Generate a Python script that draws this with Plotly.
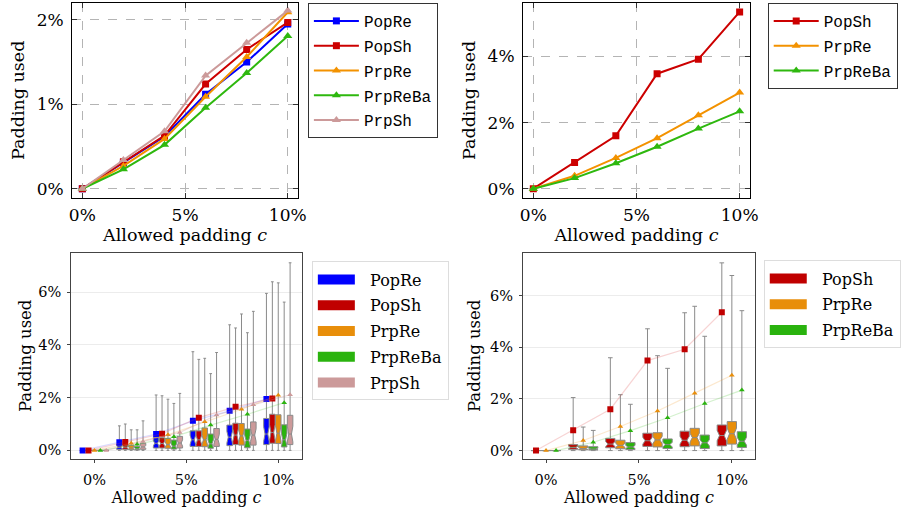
import plotly.graph_objects as go

# ---------------- data (percent) ----------------
X = [0, 2, 4, 6, 8, 10]

# top-left: mean padding used
tl_names = ["PopRe", "PopSh", "PrpRe", "PrpReBa", "PrpSh"]
tl_popre = [0, 0.31, 0.62, 1.12, 1.50, 1.95]
tl_popsh = [0, 0.32, 0.63, 1.24, 1.65, 1.97]
tl_prpre = [0, 0.27, 0.59, 1.09, 1.56, 2.09]
tl_prpreba = [0, 0.23, 0.52, 0.96, 1.37, 1.81]
tl_prpsh = [0, 0.34, 0.68, 1.34, 1.73, 2.11]

# top-right: mean padding used
tr_names = ["PopSh", "PrpRe", "PrpReBa"]
tr_popsh = [0, 0.79, 1.60, 3.48, 3.92, 5.35]
tr_prpre = [0, 0.39, 0.93, 1.53, 2.22, 2.91]
tr_prpreba = [0, 0.32, 0.77, 1.27, 1.82, 2.34]

# bottom-left box statistics
bl_q1 = {
    "PopRe":   [0, 0.04, 0.09, 0.15, 0.18, 0.22],
    "PopSh":   [0, 0.04, 0.09, 0.15, 0.22, 0.27],
    "PrpRe":   [0, 0.03, 0.08, 0.14, 0.20, 0.26],
    "PrpReBa": [0, 0.02, 0.05, 0.08, 0.10, 0.13],
    "PrpSh":   [0, 0.04, 0.09, 0.15, 0.20, 0.22],
}
bl_median = {
    "PopRe":   [0, 0.12, 0.27, 0.40, 0.50, 0.62],
    "PopSh":   [0, 0.12, 0.26, 0.40, 0.58, 0.68],
    "PrpRe":   [0, 0.09, 0.22, 0.40, 0.55, 0.65],
    "PrpReBa": [0, 0.06, 0.16, 0.25, 0.38, 0.40],
    "PrpSh":   [0, 0.13, 0.28, 0.42, 0.58, 0.62],
}
bl_q3 = {
    "PopRe":   [0, 0.23, 0.49, 0.74, 0.96, 1.21],
    "PopSh":   [0, 0.24, 0.48, 0.74, 1.03, 1.37],
    "PrpRe":   [0, 0.19, 0.45, 0.85, 1.02, 1.35],
    "PrpReBa": [0, 0.15, 0.39, 0.62, 0.81, 0.97],
    "PrpSh":   [0, 0.27, 0.53, 0.83, 1.08, 1.33],
}
bl_max = {
    "PopRe":   [0, 0.93, 2.10, 3.74, 4.76, 5.95],
    "PopSh":   [0, 1.00, 2.07, 3.45, 4.64, 6.39],
    "PrpRe":   [0, 0.78, 1.94, 3.49, 5.17, 6.35],
    "PrpReBa": [0, 0.78, 1.78, 2.91, 4.46, 5.62],
    "PrpSh":   [0, 1.12, 2.16, 3.71, 5.27, 7.11],
}
bl_min = {
    "PopRe":   [0, 0, 0, 0, 0, 0],
    "PopSh":   [0, 0, 0, 0, 0, 0],
    "PrpRe":   [0, 0, 0, 0, 0, 0],
    "PrpReBa": [0, 0, 0, 0, 0, 0],
    "PrpSh":   [0, 0, 0, 0, 0, 0],
}
bl_notch = {
    "PopRe":   [0, 0.05, 0.10, 0.17, 0.22, 0.28],
    "PopSh":   [0, 0.05, 0.10, 0.17, 0.24, 0.30],
    "PrpRe":   [0, 0.04, 0.10, 0.19, 0.23, 0.30],
    "PrpReBa": [0, 0.04, 0.09, 0.15, 0.20, 0.25],
    "PrpSh":   [0, 0.06, 0.12, 0.19, 0.24, 0.30],
}

# bottom-right box statistics
br_q1 = {
    "PopSh":   [0, 0.05, 0.11, 0.16, 0.15, 0.18],
    "PrpRe":   [0, 0.03, 0.07, 0.14, 0.18, 0.25],
    "PrpReBa": [0, 0.02, 0.04, 0.08, 0.08, 0.12],
}
br_median = {
    "PopSh":   [0, 0.12, 0.25, 0.38, 0.40, 0.58],
    "PrpRe":   [0, 0.08, 0.20, 0.41, 0.50, 0.65],
    "PrpReBa": [0, 0.06, 0.14, 0.23, 0.30, 0.36],
}
br_q3 = {
    "PopSh":   [0, 0.23, 0.47, 0.67, 0.75, 0.99],
    "PrpRe":   [0, 0.18, 0.40, 0.69, 0.86, 1.12],
    "PrpReBa": [0, 0.15, 0.31, 0.45, 0.60, 0.73],
}
br_max = {
    "PopSh":   [0, 2.05, 3.59, 4.71, 5.33, 7.26],
    "PrpRe":   [0, 0.91, 2.16, 3.67, 5.58, 6.77],
    "PrpReBa": [0, 0.78, 1.79, 3.18, 4.42, 5.41],
}
br_min = {
    "PopSh":   [0, 0, 0, 0, 0, 0],
    "PrpRe":   [0, 0, 0, 0, 0, 0],
    "PrpReBa": [0, 0, 0, 0, 0, 0],
}
br_notch = {
    "PopSh":   [0, 0.05, 0.10, 0.13, 0.15, 0.20],
    "PrpRe":   [0, 0.04, 0.08, 0.14, 0.17, 0.22],
    "PrpReBa": [0, 0.03, 0.06, 0.09, 0.12, 0.15],
}

tl_means = {"PopRe": tl_popre, "PopSh": tl_popsh, "PrpRe": tl_prpre,
            "PrpReBa": tl_prpreba, "PrpSh": tl_prpsh}
tr_means = {"PopSh": tr_popsh, "PrpRe": tr_prpre, "PrpReBa": tr_prpreba}

# ---------------- styles ----------------
LINE_COL = {"PopRe": "#0000ff", "PopSh": "#cc0000", "PrpRe": "#f39200",
            "PrpReBa": "#2eb80e", "PrpSh": "#cc9a9a"}
FILL_COL = {"PopRe": "#0000ff", "PopSh": "#c00000", "PrpRe": "#e88e0a",
            "PrpReBa": "#2ab30e", "PrpSh": "#cc9a9a"}
FAINT_COL = {"PopRe": "rgba(90,90,255,0.22)", "PopSh": "rgba(220,60,60,0.22)",
             "PrpRe": "rgba(240,150,30,0.22)", "PrpReBa": "rgba(60,190,30,0.22)",
             "PrpSh": "rgba(200,140,140,0.3)"}
SYMBOL = {"PopRe": "square", "PopSh": "square", "PrpRe": "triangle-up",
          "PrpReBa": "triangle-up", "PrpSh": "triangle-up"}

SERIF = "DejaVu Serif"
MONO = "Liberation Mono"
W, H = 904, 510
NBSP = "\u00a0"


def px_dom_x(a, b):
    return [a / W, b / W]


def px_dom_y(top, bottom):
    return [1 - bottom / H, 1 - top / H]


fig = go.Figure()

# top-left lines
for name in tl_names:
    fig.add_trace(go.Scatter(
        x=X, y=tl_means[name], name=name, mode="lines+markers",
        line=dict(color=LINE_COL[name], width=2),
        marker=dict(symbol=SYMBOL[name], size=7 if SYMBOL[name] == "square" else 8,
                    color=LINE_COL[name]),
        xaxis="x", yaxis="y", legend="legend", legendgroup="tl" + name))

# top-right lines
for name in tr_names:
    fig.add_trace(go.Scatter(
        x=X, y=tr_means[name], name=name, mode="lines+markers",
        line=dict(color=LINE_COL[name], width=2),
        marker=dict(symbol=SYMBOL[name], size=7 if SYMBOL[name] == "square" else 8,
                    color=LINE_COL[name]),
        xaxis="x2", yaxis="y2", legend="legend2", legendgroup="tr" + name))


def add_boxes(names, q1, med, q3, lo, hi, notch, means, slot, bw, xa, ya, leg):
    n = len(names)
    for i, name in enumerate(names):
        off = (i - (n - 1) / 2) * slot
        xs = [v + off for v in X]
        fig.add_trace(go.Box(
            x=xs, q1=q1[name], median=med[name], q3=q3[name],
            lowerfence=lo[name], upperfence=hi[name],
            notched=True, notchspan=notch[name], notchwidth=0.25,
            width=bw, whiskerwidth=0.5, boxpoints=False,
            fillcolor=FILL_COL[name], line=dict(color="#8a8a8a", width=1),
            showlegend=False, xaxis=xa, yaxis=ya, name=name))
    for i, name in enumerate(names):
        off = (i - (n - 1) / 2) * slot
        xs = [v + off for v in X]
        fig.add_trace(go.Scatter(
            x=xs, y=means[name], mode="lines+markers",
            line=dict(color=FAINT_COL[name], width=1.2),
            marker=dict(symbol=SYMBOL[name],
                        size=6 if SYMBOL[name] == "square" else 5,
                        color=FILL_COL[name]),
            showlegend=False, xaxis=xa, yaxis=ya, name=name))
    # legend patches
    for name in names:
        fig.add_trace(go.Scatter(
            x=[None], y=[None], mode="lines", name=NBSP * 2 + name,
            line=dict(color=FILL_COL[name], width=13),
            xaxis=xa, yaxis=ya, legend=leg, legendgroup=leg + name))


add_boxes(tl_names, bl_q1, bl_median, bl_q3, bl_min, bl_max, bl_notch,
          tl_means, 0.322, 0.30, "x3", "y3", "legend3")
add_boxes(tr_names, br_q1, br_median, br_q3, br_min, br_max, br_notch,
          tr_means, 0.54, 0.50, "x4", "y4", "legend4")

# ---------------- axes ----------------
top_font = dict(family=SERIF, size=17, color="black")


def top_x(dom, anchor):
    return dict(domain=dom, anchor=anchor, range=[-0.5, 10.5], tickvals=[0, 5, 10],
                ticktext=["0%", "5%", "10%"], ticks="inside", ticklen=5,
                tickcolor="#333", mirror="ticks", showline=True, linecolor="black",
                linewidth=1, showgrid=True, gridcolor="#b4b4b4", griddash="dash",
                gridwidth=1, zeroline=False, tickfont=top_font, ticklabelstandoff=2,
                title=dict(text="Allowed padding <i>c</i>",
                           font=dict(family=SERIF, size=17.5, color="black"),
                           standoff=0))


def top_y(dom, anchor, rng, vals):
    return dict(domain=dom, anchor=anchor, range=rng, tickvals=vals,
                ticktext=[f"{v}%" for v in vals], ticks="inside", ticklen=5,
                tickcolor="#333", mirror="ticks", showline=True, linecolor="black",
                linewidth=1, showgrid=True, gridcolor="#b4b4b4", griddash="dash",
                gridwidth=1, zeroline=False, tickfont=top_font, ticklabelstandoff=4,
                title=dict(text="Padding used",
                           font=dict(family=SERIF, size=17.5, color="black"),
                           standoff=7))


bot_font = dict(family=SERIF, size=14.5, color="black")


def bot_x(dom, anchor, rng):
    return dict(domain=dom, anchor=anchor, range=rng, tickvals=[0, 5, 10],
                ticktext=["0%", "5%", "10%"], ticks="outside", ticklen=3,
                tickcolor="#444", mirror=True, showline=True, linecolor="#444",
                linewidth=1, showgrid=False, zeroline=False, tickfont=bot_font,
                ticklabelstandoff=5,
                title=dict(text="Allowed padding <i>c</i>",
                           font=dict(family=SERIF, size=16, color="black"), standoff=0))


def bot_y(dom, anchor, rng, standoff):
    return dict(domain=dom, anchor=anchor, range=rng, tickvals=[0, 2, 4, 6],
                ticktext=["0%", "2%", "4%", "6%"], ticks="outside", ticklen=3,
                tickcolor="#444", mirror=True, showline=True, linecolor="#444",
                linewidth=1, showgrid=True, gridcolor="#ececec", gridwidth=1,
                zeroline=False, tickfont=bot_font,
                ticklabelstandoff=3,
                title=dict(text="Padding used",
                           font=dict(family=SERIF, size=16.5, color="black"),
                           standoff=standoff))


fig.update_layout(
    width=W, height=H, margin=dict(l=0, r=0, t=0, b=0),
    paper_bgcolor="white", plot_bgcolor="white",
    boxmode="overlay",
    xaxis=top_x(px_dom_x(70, 299), "y"),
    yaxis=top_y(px_dom_y(3, 198), "x", [-0.105, 2.2], [0, 1, 2]),
    xaxis2=top_x(px_dom_x(527, 757), "y2"),
    yaxis2=top_y(px_dom_y(3, 198), "x2", [-0.27, 5.62], [0, 2, 4]),
    xaxis3=bot_x(px_dom_x(69, 303), "y3", [-1.27, 11.29]),
    yaxis3=bot_y(px_dom_y(253, 460), "x3", [-0.33, 7.5], 2),
    xaxis4=bot_x(px_dom_x(527, 762), "y4", [-1.24, 11.24]),
    yaxis4=bot_y(px_dom_y(253, 460), "x4", [-0.33, 7.66], 5),
    legend=dict(x=309 / W, y=1 - 3 / H, xanchor="left", yanchor="top",
                bordercolor="#333", borderwidth=1, bgcolor="white",
                font=dict(family=MONO, size=16, color="black"),
                itemwidth=45, tracegroupgap=1),
    legend2=dict(x=775 / W, y=1 - 3 / H, xanchor="left", yanchor="top",
                 bordercolor="#333", borderwidth=1, bgcolor="white",
                 font=dict(family=MONO, size=16, color="black"),
                 itemwidth=45, tracegroupgap=1),
    legend3=dict(x=313 / W, y=1 - 262 / H, xanchor="left", yanchor="top",
                 bordercolor="#dddddd", borderwidth=1, bgcolor="white",
                 font=dict(family=SERIF, size=16, color="black"),
                 itemwidth=37, tracegroupgap=2),
    legend4=dict(x=771 / W, y=1 - 261 / H, xanchor="left", yanchor="top",
                 bordercolor="#dddddd", borderwidth=1, bgcolor="white",
                 font=dict(family=SERIF, size=16, color="black"),
                 itemwidth=37, tracegroupgap=2),
)

fig.write_html(
    "out.html",
    config={"displayModeBar": False},
    post_script="document.body.style.margin='0px';document.body.style.overflow='hidden';",
)
